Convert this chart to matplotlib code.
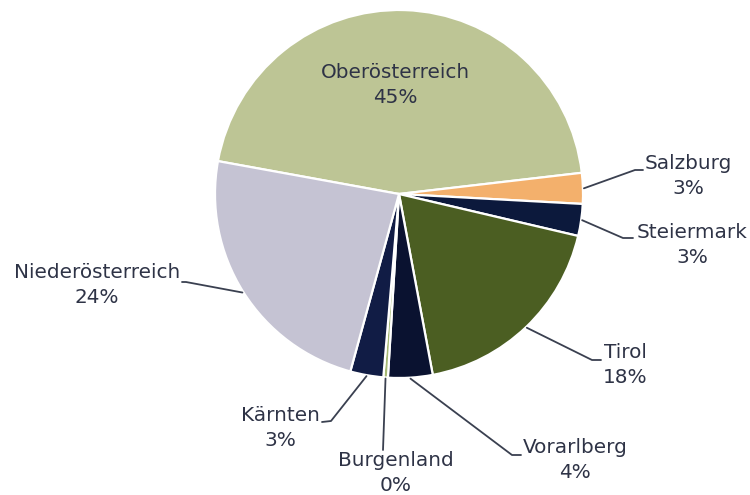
import matplotlib
matplotlib.use("Agg")
import matplotlib.pyplot as plt
import numpy as np

regions = ["Oberösterreich", "Salzburg", "Steiermark", "Tirol", "Vorarlberg",
           "Burgenland", "Kärnten", "Niederösterreich"]
shares = [45.3, 2.7, 2.8, 18.4, 3.9, 0.4, 2.9, 23.6]
colors = ["#BDC595", "#F3B06C", "#0C193C", "#4B5E22", "#0A1230",
          "#A5B874", "#111C45", "#C5C3D3"]

plt.rcParams['font.family'] = ['DejaVu Sans']
TXT = "#2E3346"
LINE = "#3A4050"

fig = plt.figure(figsize=(7.5, 4.95), dpi=100)
ax = fig.add_axes([0, 0, 1, 1])

cx, cy, R = 399, 495 - 194, 184
wedges, _ = ax.pie(shares, colors=colors, startangle=169.7, counterclock=False,
                   center=(cx, cy), radius=R, frame=True,
                   wedgeprops=dict(edgecolor="white", linewidth=1.6))
ax.set_xlim(0, 750)
ax.set_ylim(0, 495)
ax.set_aspect('equal')
ax.axis('off')

# label layout: (text block centre, elbow point, end point) in image coords
layout = {
    "Oberösterreich":  ((395, 85), None, None),
    "Salzburg":        ((688, 176), (635, 170), (643, 170)),
    "Steiermark":      ((692, 245), (623, 238), (633, 238)),
    "Tirol":           ((625, 365), (592, 360), (601, 360)),
    "Vorarlberg":      ((575, 460), (512, 455), (521, 455)),
    "Burgenland":      ((396, 473), (383, 450), (383, 450)),
    "Kärnten":         ((280, 428), (331, 421), (322, 422)),
    "Niederösterreich": ((97, 285), (186, 282), (182, 282)),
}

FS = 14.4
for w, name, v in zip(wedges, regions, shares):
    lab = f"{name}\n{v:.0f}%"
    (tx, ty), elbow, end = layout[name]
    if elbow is not None:
        mid = np.deg2rad((w.theta1 + w.theta2) / 2)
        sx, sy = cx + (R + 1) * np.cos(mid), cy + (R + 1) * np.sin(mid)
        ax.plot([sx, elbow[0], end[0]], [sy, 495 - elbow[1], 495 - end[1]],
                color=LINE, lw=1.3, solid_capstyle="round",
                solid_joinstyle="round")
    ax.text(tx, 495 - ty, lab, ha="center", va="center", fontsize=FS,
            color=TXT, linespacing=1.42)

fig.savefig("out.png", dpi=100)
